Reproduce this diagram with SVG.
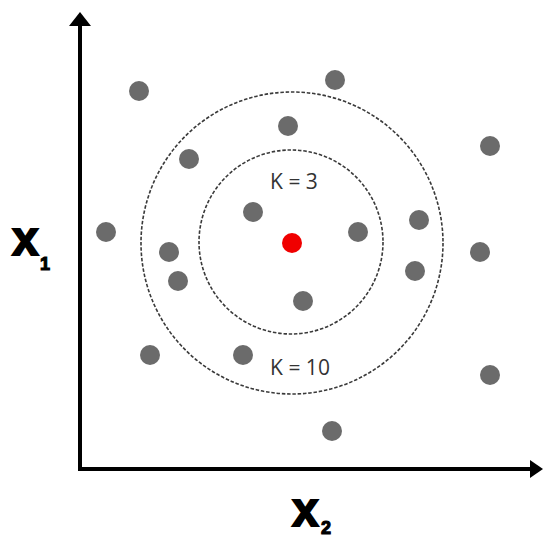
<svg xmlns="http://www.w3.org/2000/svg" width="543" height="540" viewBox="0 0 543 540">
  <style>
    .pt { fill: #6b6b6b; }
    .ring { fill: none; stroke: #3a3a3a; stroke-width: 1.6; stroke-dasharray: 3.5 1.8; }
    .axis { stroke: #000; stroke-width: 4; fill: none; }
    .klabel { font-family: "Open Sans", "Liberation Sans", sans-serif; font-size: 21px; fill: #333; text-anchor: middle; }
    .ax { font-family: "Liberation Sans", Arial, sans-serif; font-weight: bold; fill: #000; stroke: #000; stroke-width: 1.8; }
    .sub { font-family: "Liberation Sans", Arial, sans-serif; font-weight: bold; fill: #000; stroke: #000; stroke-width: 1.1; font-size: 18px; }
  </style>
  <rect width="543" height="540" fill="#fff"/>
  <g id="connectors">
    <line class="axis" x1="80" y1="471" x2="80" y2="22"/>
    <polygon points="80,12 91,26 69,26" fill="#000"/>
    <line class="axis" x1="78" y1="469" x2="533" y2="469"/>
    <polygon points="543,469 530,460 530,478" fill="#000"/>
  </g>
  <g id="ring-k10"><circle class="ring" cx="292" cy="243" r="151"/></g>
  <g id="ring-k3"><circle class="ring" cx="291" cy="242" r="92"/></g>
  <g id="label-k3"><text class="klabel" x="294" y="189">K = 3</text></g>
  <g id="label-k10"><text class="klabel" x="300" y="375">K = 10</text></g>
  <g id="points">
    <circle class="pt" cx="139" cy="91" r="10"/>
    <circle class="pt" cx="335" cy="80" r="10"/>
    <circle class="pt" cx="288" cy="126" r="10"/>
    <circle class="pt" cx="189" cy="159" r="10"/>
    <circle class="pt" cx="490" cy="146" r="10"/>
    <circle class="pt" cx="106" cy="232" r="10"/>
    <circle class="pt" cx="253" cy="212" r="10"/>
    <circle class="pt" cx="169" cy="252" r="10"/>
    <circle class="pt" cx="178" cy="281" r="10"/>
    <circle class="pt" cx="358" cy="232" r="10"/>
    <circle class="pt" cx="419" cy="220" r="10"/>
    <circle class="pt" cx="415" cy="271" r="10"/>
    <circle class="pt" cx="480" cy="252" r="10"/>
    <circle class="pt" cx="303" cy="301" r="10"/>
    <circle class="pt" cx="150" cy="355" r="10"/>
    <circle class="pt" cx="243" cy="355" r="10"/>
    <circle class="pt" cx="490" cy="375" r="10"/>
    <circle class="pt" cx="332" cy="431" r="10"/>
  </g>
  <g id="query"><circle cx="292" cy="243" r="10" fill="#f00000"/></g>
  <g id="label-x1">
    <text class="ax" x="12" y="255" font-size="48">x</text>
    <text class="sub" x="40" y="270">1</text>
  </g>
  <g id="label-x2">
    <text class="ax" x="292" y="526" font-size="48">x</text>
    <text class="sub" x="321" y="534" font-size="15">2</text>
  </g>
</svg>
